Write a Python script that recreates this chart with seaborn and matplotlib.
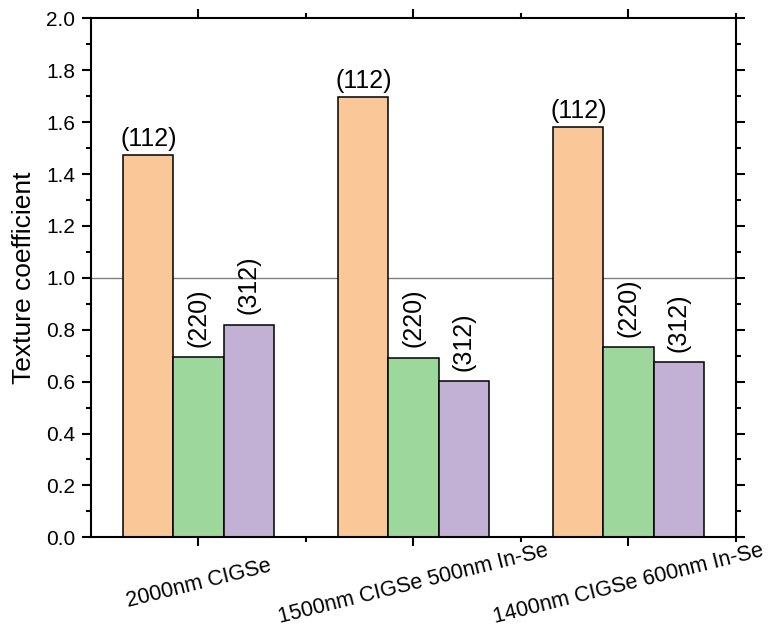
import matplotlib
matplotlib.use("Agg")
import matplotlib.pyplot as plt
from matplotlib.ticker import MultipleLocator, FixedLocator, FormatStrFormatter
import seaborn as sns
import pandas as pd

# Texture coefficients of the three reflections for each absorber stack
samples = ["2000nm CIGSe", "1500nm CIGSe 500nm In-Se", "1400nm CIGSe 600nm In-Se"]
planes = ["(112)", "(220)", "(312)"]
tc_112 = [1.472, 1.697, 1.582]
tc_220 = [0.695, 0.692, 0.732]
tc_312 = [0.820, 0.602, 0.676]
colors = ["#FAC898", "#9ED79B", "#C2B1D5"]

rows = []
for s, a, b, c in zip(samples, tc_112, tc_220, tc_312):
    rows += [(s, planes[0], a), (s, planes[1], b), (s, planes[2], c)]
df = pd.DataFrame(rows, columns=["sample", "plane", "tc"])

sns.set_theme(style="white")
plt.rcParams["font.family"] = ["Liberation Sans", "DejaVu Sans"]
plt.rcParams.update({"text.color": "black", "axes.labelcolor": "black",
                     "xtick.color": "black", "ytick.color": "black"})

fig = plt.figure(figsize=(7.73, 6.32), dpi=100)
ax = fig.add_axes([0.1177, 0.1498, 0.8344, 0.8212])

sns.barplot(data=df, x="sample", y="tc", hue="plane", order=samples,
            hue_order=planes, palette=colors, width=0.7, saturation=1,
            edgecolor="black", linewidth=1.1, legend=False, ax=ax,
            errorbar=None)

ax.axhline(1.0, color="#808080", lw=1.0, zorder=0)

# plane labels above each bar
for plane, cont in zip(planes, ax.containers):
    for bar in cont:
        xc = bar.get_x() + bar.get_width() / 2
        h = bar.get_height()
        if plane == "(112)":
            ax.text(xc, h + 0.016, plane, ha="center", va="bottom",
                    fontsize=18, color="black")
        else:
            ax.text(xc, h + 0.04, plane, ha="center", va="bottom",
                    rotation=90, fontsize=18, color="black")

ax.set_xlim(-0.5, 2.5)
ax.set_ylim(0, 2.0)
ax.yaxis.set_major_locator(MultipleLocator(0.2))
ax.yaxis.set_minor_locator(MultipleLocator(0.1))
ax.xaxis.set_minor_locator(FixedLocator([0.5, 1.5, 2.5]))
ax.yaxis.set_major_formatter(FormatStrFormatter("%.1f"))

ax.set_xlabel("")
ax.set_ylabel("Texture coefficient", fontsize=19, labelpad=7, color="black")
ax.set_xticks(range(len(samples)))
ax.set_xticklabels(samples, rotation=14, ha="center", va="center",
                   rotation_mode="anchor", fontsize=15.5, color="black")

for sp in ax.spines.values():
    sp.set_visible(True)
    sp.set_color("black")
    sp.set_linewidth(1.5)

ax.tick_params(which="both", direction="out", color="black", width=1.5,
               labelcolor="black",
               top=True, right=True, bottom=True, left=True,
               labeltop=False, labelright=False)
ax.tick_params(which="major", length=6.5)
ax.tick_params(which="minor", length=3.6)
ax.tick_params(axis="y", labelsize=15, pad=5)
ax.tick_params(axis="x", pad=27)

fig.savefig("out.png", dpi=100)
